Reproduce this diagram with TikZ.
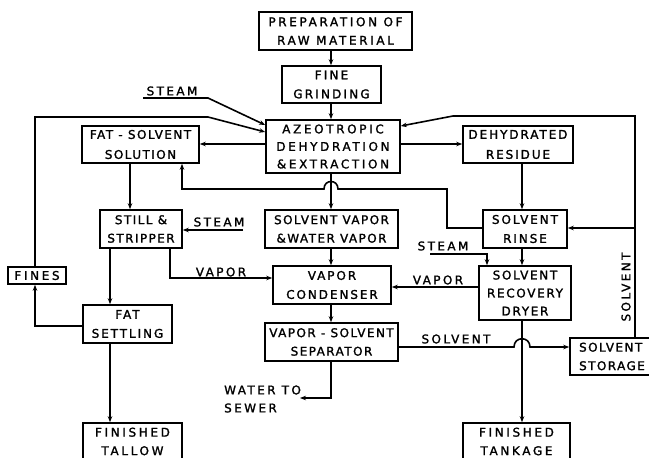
\documentclass[tikz,border=0pt]{standalone}
\usepackage{fontspec}
\setmainfont{DejaVu Sans}[LetterSpace=12,FakeBold=1.5]
\usetikzlibrary{arrows.meta}
\begin{document}
\begin{tikzpicture}[x=1pt,y=-1pt,
  box/.style={draw,line width=1.6pt,inner sep=0pt,align=center,font=\fontsize{12}{18.5}\selectfont},
  wide/.style={font=\fontsize{12}{#1}\selectfont\addfontfeatures{LetterSpace=22}},
  lbl/.style={inner sep=0pt,font=\fontsize{12}{18}\selectfont\addfontfeatures{LetterSpace=20}},
  arr/.style={line width=1.6pt,-{Stealth[length=6pt,width=4.5pt]}}]
\useasboundingbox (0,0) rectangle (649,458);
% boxes
\node[box,wide=18.5,minimum width=153pt,minimum height=38pt] (prep) at (335.5,31) {PREPARATION OF\\RAW MATERIAL};
\node[box,minimum width=99pt,minimum height=37pt,font=\fontsize{12}{19}\selectfont\addfontfeatures{LetterSpace=18}] (grind) at (331.5,84.5) {FINE\\GRINDING};
\node[box,wide=17.5,minimum width=134pt,minimum height=53pt] (azeo) at (333,146.5) {AZEOTROPIC\\DEHYDRATION\\\&EXTRACTION};
\node[box,minimum width=117pt,minimum height=37pt,font=\fontsize{12}{20}\selectfont] (fatsol) at (140.5,144.5) {FAT - SOLVENT\\SOLUTION};
\node[box,minimum width=110pt,minimum height=37pt,font=\fontsize{12}{20}\selectfont\addfontfeatures{LetterSpace=16}] (dehyd) at (518,144.5) {DEHYDRATED\\RESIDUE};
\node[box,minimum width=82pt,minimum height=38pt] (still) at (141,229) {STILL \&\\STRIPPER};
\node[box,minimum width=133pt,minimum height=38pt] (svap) at (331.5,229) {SOLVENT VAPOR\\\&WATER VAPOR};
\node[box,minimum width=84pt,minimum height=38pt,font=\fontsize{12}{19}\selectfont\addfontfeatures{LetterSpace=16}] (rinse) at (525,229) {SOLVENT\\RINSE};
\node[box,minimum width=58pt,minimum height=17pt,font=\fontsize{12}{18}\selectfont\addfontfeatures{LetterSpace=22}] (fines) at (37,275.5) {FINES};
\node[box,minimum width=118pt,minimum height=38pt,font=\fontsize{12}{19}\selectfont\addfontfeatures{LetterSpace=16}] (cond) at (332,285) {VAPOR\\CONDENSER};
\node[box,minimum width=92pt,minimum height=54pt,font=\fontsize{12}{18}\selectfont\addfontfeatures{LetterSpace=14}] (dryer) at (525,293) {SOLVENT\\RECOVERY\\DRYER};
\node[box,minimum width=89pt,minimum height=38pt,font=\fontsize{12}{19}\selectfont\addfontfeatures{LetterSpace=16}] (settle) at (127.5,324) {FAT\\SETTLING};
\node[box,minimum width=133pt,minimum height=38pt] (sep) at (331.5,342) {VAPOR - SOLVENT\\SEPARATOR};
\node[box,minimum width=84pt,minimum height=37pt,align=left] (storage) at (612,356.5) {SOLVENT\\STORAGE};
\node[box,wide=18.5,minimum width=99pt,minimum height=37pt] (tallow) at (132.5,441.5) {FINISHED\\TALLOW};
\node[box,wide=18.5,minimum width=107pt,minimum height=37pt] (tankage) at (516.5,441.5) {FINISHED\\TANKAGE};
% labels
\node[lbl] (steam1) at (172,91) {STEAM};
\node[lbl] (steam2) at (219,222) {STEAM};
\node[lbl] (steam3) at (443,246) {STEAM};
\node[lbl] (vap1) at (221,272) {VAPOR};
\node[lbl] (vap2) at (438,280) {VAPOR};
\node[lbl] (solv1) at (456,339) {SOLVENT};
\node[lbl,rotate=90] (solv2) at (626,287) {SOLVENT};
\node[lbl,align=left,anchor=west] (sewer) at (224,399) {WATER TO\\SEWER};
% column coordinates
\coordinate (xm) at (331,0);
\coordinate (xl) at (110,0);
\coordinate (xfs) at (130,0);
\coordinate (xr) at (522,0);
\coordinate (xL) at (35,0);
\coordinate (xR) at (635,0);
\coordinate (sewerpt) at (300,398);
% connectors
\draw[arr] (xm |- prep.south) -- (xm |- grind.north);
\draw[arr] (xm |- grind.south) -- (xm |- azeo.north);
\draw[arr] (143,98) -- (208,98) -- (azeo.west |- 0,125);
\draw[arr] (fines.north -| xL) -- (xL |- 0,117) -- (208,117) -- (azeo.west |- 0,132);
\draw[arr] (azeo.west |- 0,144) -- (fatsol.east |- 0,144);
\draw[arr] (azeo.east |- 0,144) -- (dehyd.west |- 0,144);
\draw[arr] (storage.north -| xR) -- (xR |- 0,116) -- (453,116) -- (azeo.east |- 0,126);
\draw[arr] (xR |- 0,228) -- (rinse.east |- 0,228);
\draw[arr] (rinse.west |- 0,228) -- (447,228) -- (447,189) -- (338,189)
  .. controls (338,179) and (324,179) .. (324,189) -- (182,189) -- (fatsol.south -| 182,0);
\draw[arr] (xr |- dehyd.south) -- (xr |- rinse.north);
\draw[arr] (xr |- rinse.south) -- (xr |- dryer.north);
\draw[arr] (430,254) -- (487,254) -- (dryer.north -| 487,0);
\draw[arr] (dryer.west |- 0,287) -- (cond.east |- 0,287);
\draw[arr] (still.south -| 170,0) -- (170,278) -- (cond.west |- 0,278);
\draw[arr] (243,230) -- (still.east |- 0,230);
\draw[arr] (xfs |- fatsol.south) -- (xfs |- still.north);
\draw[arr] (xl |- still.south) -- (xl |- settle.north);
\draw[arr] (settle.west |- 0,326) -- (xL |- 0,326) -- (fines.south -| xL);
\draw[arr] (xl |- settle.south) -- (xl |- tallow.north);
\draw[arr] (xm |- azeo.south) -- (xm |- svap.north);
\draw[arr] (xm |- svap.south) -- (xm |- cond.north);
\draw[arr] (xm |- cond.south) -- (xm |- sep.north);
\draw[arr] (sep.east |- 0,347) -- (514,347) .. controls (514,336) and (530,336) .. (530,347) -- (storage.west |- 0,347);
\draw[arr] (xr |- dryer.south) -- (xr |- tankage.north);
\draw[arr] (xm |- sep.south) -- (xm |- sewerpt) -- (sewerpt);
\end{tikzpicture}
\end{document}
